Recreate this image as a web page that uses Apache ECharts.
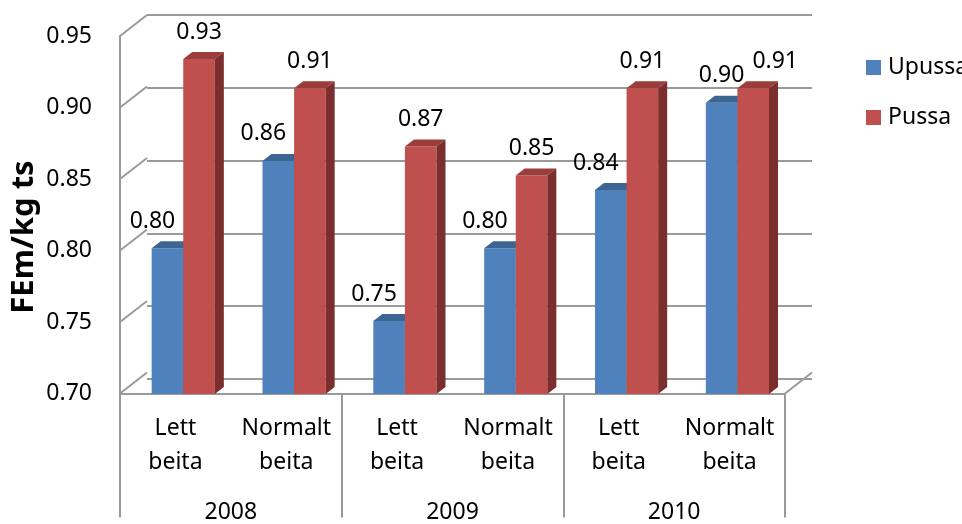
<!DOCTYPE html>
<html>
<head>
<meta charset="utf-8">
<script src="https://cdn.jsdelivr.net/npm/echarts@6/dist/echarts.min.js"></script>
<style>
  html, body { margin: 0; padding: 0; background: #ffffff; }
  #chart { width: 962px; height: 524px; }
</style>
</head>
<body>
<div id="chart"></div>
<script>
// Energy value of feed (FEm per kg dry matter), grazing intensity by year
const years = ['2008', '2009', '2010'];
const categories = ['Lett\nbeita', 'Normalt\nbeita', 'Lett\nbeita', 'Normalt\nbeita', 'Lett\nbeita', 'Normalt\nbeita'];
const upussa = [0.80, 0.86, 0.75, 0.80, 0.84, 0.90];
const pussa = [0.93, 0.91, 0.87, 0.85, 0.91, 0.91];
const yMin = 0.70;
const yMax = 0.95;
const yStep = 0.05;
const seriesNames = ['Upussa', 'Pussa'];

// ---- drawing ----
const FONT = 'Noto Sans';
const FS = 23;
const TEXT = '#000000';
const LINE = '#9a9a9a';
const DEPTH = [27, -21];          // front-to-back offset of the 3D box
const BAR_DEPTH = [9, -7];        // depth of a single column
const BAR_OFFSET = 0.29;          // columns stand this far into the box

const front = { left: 120, top: 36, width: 665, height: 364 };
const back = {
  left: front.left + DEPTH[0], top: front.top + DEPTH[1],
  width: front.width, height: front.height
};
const mid = {
  left: front.left + DEPTH[0] * BAR_OFFSET, top: front.top + DEPTH[1] * BAR_OFFSET,
  width: front.width, height: front.height
};

const palette = [
  { face: '#4f81bd', top: '#3d6592', side: '#2f4f74' },
  { face: '#c0504d', top: '#9b3d3a', side: '#7b2e2d' }
];
// horizontal nudges of the value labels, keeping neighbours apart
const labelShift = [[-15, -15, -15, -15, -15, 0], [0, 0, 0, 0, 0, 22]];

const ticks = [];
for (let v = yMin; v <= yMax + 1e-9; v += yStep) ticks.push(+v.toFixed(2));

function columnRenderer(sIdx) {
  const c = palette[sIdx];
  return function (params, api) {
    const cat = api.value(0);
    const val = api.value(1);
    const topPt = api.coord([cat, val]);
    const basePt = api.coord([cat, yMin]);
    const band = api.size([1, 0])[0];
    const w = band * 0.285;
    const x0 = sIdx === 0 ? topPt[0] - w : topPt[0];
    const x1 = x0 + w;
    const yT = topPt[1];
    const yB = basePt[1];
    const dx = BAR_DEPTH[0], dy = BAR_DEPTH[1];
    return {
      type: 'group',
      children: [
        { type: 'rect', shape: { x: x0, y: yT, width: w, height: yB - yT }, style: { fill: c.face } },
        { type: 'polygon', shape: { points: [[x0, yT], [x1, yT], [x1 + dx, yT + dy], [x0 + dx, yT + dy]] }, style: { fill: c.top } },
        { type: 'polygon', shape: { points: [[x1, yT], [x1 + dx, yT + dy], [x1 + dx, yB + dy], [x1, yB]] }, style: { fill: c.side } },
        {
          type: 'text',
          style: {
            x: (x0 + x1) / 2 + labelShift[sIdx][params.dataIndex], y: yT - 27,
            text: val.toFixed(2), fill: TEXT, font: FS + 'px "' + FONT + '"',
            textAlign: 'center', textVerticalAlign: 'middle'
          }
        }
      ]
    };
  };
}

function wallRenderer(params, api) {
  const v = api.value(1);
  const p = api.coord([0, v]);
  const band = api.size([1, 0])[0];
  const xl = p[0] - band / 2;
  const children = [{
    type: 'line',
    shape: { x1: xl, y1: p[1], x2: xl + DEPTH[0], y2: p[1] + DEPTH[1] },
    style: { stroke: LINE, lineWidth: 2 }
  }];
  if (v === yMin) {
    const xr = xl + band * categories.length;
    children.push({
      type: 'line',
      shape: { x1: xr, y1: p[1], x2: xr + DEPTH[0], y2: p[1] + DEPTH[1] },
      style: { stroke: LINE, lineWidth: 2 }
    });
  }
  return { type: 'group', children: children };
}

const chart = echarts.init(document.getElementById('chart'), null, { renderer: 'canvas' });

const valueAxisBase = { type: 'value', min: yMin, max: yMax, interval: yStep };

chart.setOption({
  backgroundColor: '#ffffff',
  animation: false,
  textStyle: { fontFamily: FONT },
  grid: [
    Object.assign({}, front),
    Object.assign({}, back),
    Object.assign({}, mid)
  ],
  legend: {
    data: seriesNames,
    orient: 'vertical',
    left: 861,
    top: 51,
    icon: 'rect',
    itemWidth: 15,
    itemHeight: 15,
    itemGap: 27,
    textStyle: { fontSize: FS, lineHeight: 22, color: TEXT, fontFamily: FONT, padding: [0, 0, 0, 2] }
  },
  xAxis: [
    {
      gridIndex: 0, type: 'category', data: categories, position: 'bottom',
      axisLine: { show: true, lineStyle: { color: LINE, width: 2 } },
      axisTick: { show: false },
      axisLabel: { interval: 0, fontSize: FS, lineHeight: 34, color: TEXT, margin: 18, fontFamily: FONT }
    },
    {
      gridIndex: 0, type: 'category', data: years, position: 'bottom', offset: 0,
      axisLine: { show: false },
      axisTick: { show: true, interval: 0, length: 124, lineStyle: { color: LINE, width: 2 } },
      axisLabel: { interval: 0, fontSize: FS, lineHeight: 22, color: TEXT, margin: 108, fontFamily: FONT }
    },
    { gridIndex: 1, type: 'category', data: categories, show: false },
    { gridIndex: 2, type: 'category', data: categories, show: false }
  ],
  yAxis: [
    Object.assign({}, valueAxisBase, {
      gridIndex: 0,
      axisLine: { show: true, lineStyle: { color: LINE, width: 2 } },
      axisTick: { show: false },
      splitLine: { show: false },
      axisLabel: { fontSize: FS, color: TEXT, margin: 28, fontFamily: FONT, formatter: v => v.toFixed(2) }
    }),
    Object.assign({}, valueAxisBase, {
      gridIndex: 1,
      axisLine: { show: false },
      axisTick: { show: false },
      axisLabel: { show: false },
      splitLine: { show: true, lineStyle: { color: LINE, width: 2 } }
    }),
    Object.assign({}, valueAxisBase, { gridIndex: 2, show: false, splitLine: { show: false } })
  ],
  graphic: [{
    type: 'text',
    x: 24, y: 237, rotation: Math.PI / 2,
    style: {
      text: 'FEm/kg ts', fill: TEXT, font: 'bold 31px "' + FONT + '"',
      textAlign: 'center', textVerticalAlign: 'middle'
    }
  }],
  series: [
    {
      name: 'walls', type: 'custom', xAxisIndex: 0, yAxisIndex: 0, z: 1, silent: true,
      renderItem: wallRenderer,
      data: ticks.map(v => [0, v])
    },
    {
      name: seriesNames[0], type: 'custom', xAxisIndex: 3, yAxisIndex: 2, z: 3,
      itemStyle: { color: palette[0].face },
      renderItem: columnRenderer(0),
      data: upussa.map((v, i) => [i, v])
    },
    {
      name: seriesNames[1], type: 'custom', xAxisIndex: 3, yAxisIndex: 2, z: 4,
      itemStyle: { color: palette[1].face },
      renderItem: columnRenderer(1),
      data: pussa.map((v, i) => [i, v])
    }
  ]
});
</script>
</body>
</html>
